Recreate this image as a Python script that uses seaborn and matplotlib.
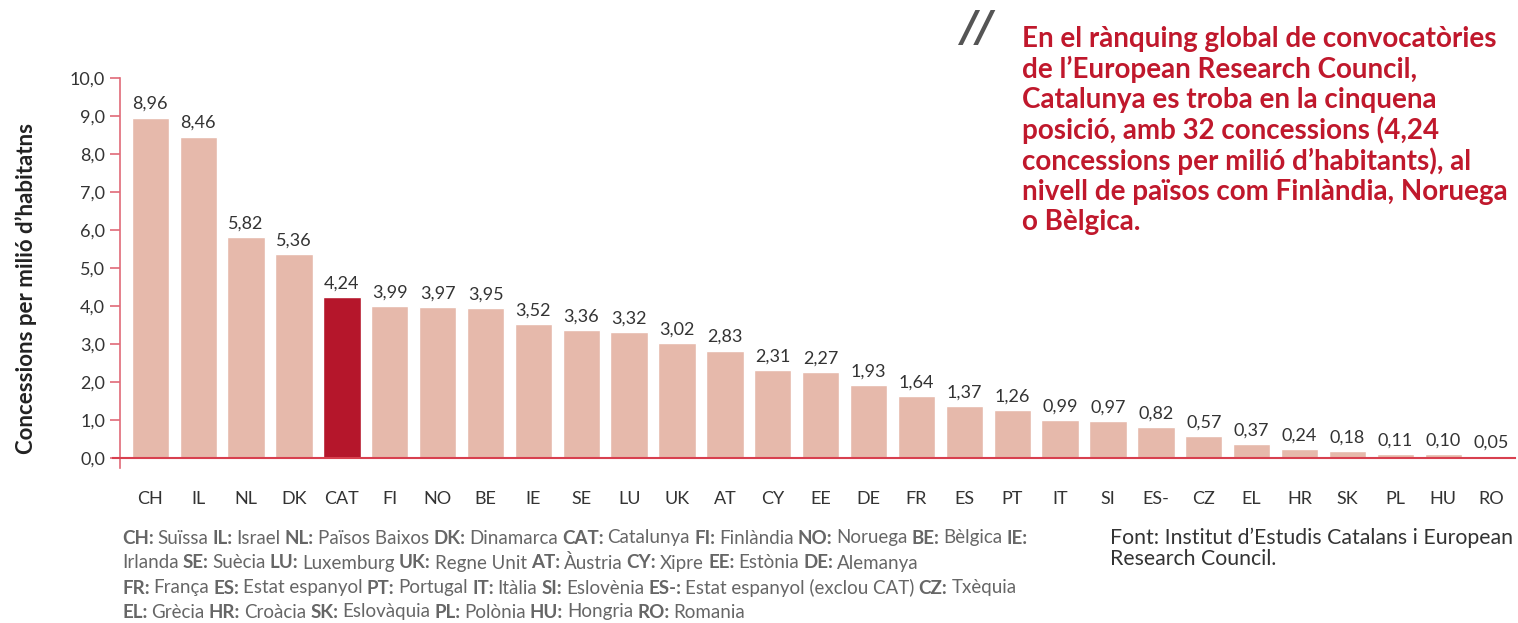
import matplotlib
matplotlib.use("Agg")
import matplotlib.pyplot as plt
import seaborn as sns

# dades
codes = ["CH", "IL", "NL", "DK", "CAT", "FI", "NO", "BE", "IE", "SE", "LU", "UK", "AT", "CY",
         "EE", "DE", "FR", "ES", "PT", "IT", "SI", "ES-", "CZ", "EL", "HR", "SK", "PL", "HU", "RO"]
values = [8.96, 8.46, 5.82, 5.36, 4.24, 3.99, 3.97, 3.95, 3.52, 3.36, 3.32, 3.02, 2.83, 2.31,
          2.27, 1.93, 1.64, 1.37, 1.26, 0.99, 0.97, 0.82, 0.57, 0.37, 0.24, 0.18, 0.11, 0.10, 0.05]
yticks = [0, 1, 2, 3, 4, 5, 6, 7, 8, 9, 10]
highlight = "CAT"

title_text = ("En el rànquing global de convocatòries\n"
              "de l’European Research Council,\n"
              "Catalunya es troba en la cinquena\n"
              "posició, amb 32 concessions (4,24\n"
              "concessions per milió d’habitants), al\n"
              "nivell de països com Finlàndia, Noruega\n"
              "o Bèlgica.")
ylabel = "Concessions per milió d’habitatns"
source = "Font: Institut d’Estudis Catalans i European\nResearch Council."

legend_lines = [
    [("CH:", "Suïssa"), ("IL:", "Israel"), ("NL:", "Països Baixos"), ("DK:", "Dinamarca"),
     ("CAT:", "Catalunya"), ("FI:", "Finlàndia"), ("NO:", "Noruega"), ("BE:", "Bèlgica"), ("IE:", "")],
    [("", "Irlanda"), ("SE:", "Suècia"), ("LU:", "Luxemburg"), ("UK:", "Regne Unit"),
     ("AT:", "Àustria"), ("CY:", "Xipre"), ("EE:", "Estònia"), ("DE:", "Alemanya")],
    [("FR:", "França"), ("ES:", "Estat espanyol"), ("PT:", "Portugal"), ("IT:", "Itàlia"),
     ("SI:", "Eslovènia"), ("ES-:", "Estat espanyol (exclou CAT)"), ("CZ:", "Txèquia")],
    [("EL:", "Grècia"), ("HR:", "Croàcia"), ("SK:", "Eslovàquia"), ("PL:", "Polònia"),
     ("HU:", "Hongria"), ("RO:", "Romania")],
]

sns.set_style("white")
plt.rcParams["font.family"] = ["Lato", "DejaVu Sans"]

light = "#e6b9ab"
dark_red = "#b5162b"
palette = {c: (dark_red if c == highlight else light) for c in codes}

W, H = 1518, 623
fig = plt.figure(figsize=(15.18, 6.23), dpi=100)
ax = fig.add_axes([113 / W, 1 - 468 / H, (1515 - 113) / W, (468 - 78) / H])

sns.barplot(x=codes, y=values, hue=codes, palette=palette, legend=False,
            width=0.78, saturation=1, ax=ax)

for cont in ax.containers:
    ax.bar_label(cont, labels=[f"{v:.2f}".replace(".", ",") for v in cont.datavalues],
                 padding=4, fontsize=13, color="#333333")

ax.set_xlim(-0.78, 28.5)
ax.set_ylim(-0.26, 10)
ax.set_yticks(yticks)
ax.set_yticklabels([f"{v:.1f}".replace(".", ",") for v in yticks])
ax.tick_params(axis="x", length=0, pad=24, labelsize=13, labelcolor="#333333")
ax.tick_params(axis="y", length=7, width=1.2, color="#e06a78", left=True, pad=4,
               labelsize=13, labelcolor="#333333")
for s in ["top", "right"]:
    ax.spines[s].set_visible(False)
ax.spines["left"].set_position(("data", -0.63))
ax.spines["bottom"].set_position(("data", 0))
ax.spines["left"].set_color("#e06a78")
ax.spines["left"].set_linewidth(1.2)
ax.spines["bottom"].set_color("#d8404f")
ax.spines["bottom"].set_linewidth(1.5)
ax.set_ylabel("")

fig.text(26 / W, 1 - 288 / H, ylabel, rotation=90, ha="center", va="center",
         fontsize=16, fontweight="bold", color="#222222")

# text destacat
fig.text(962 / W, 1 - 8 / H, "//", fontsize=30, fontweight="bold", style="italic",
         family="DejaVu Sans", color="#555555", ha="left", va="top")
fig.text(1022 / W, 1 - 26 / H, title_text, fontsize=20, fontweight="bold",
         color="#c0182c", ha="left", va="top", linespacing=1.17)

# llegenda de codis
renderer = fig.canvas.get_renderer()
line_y = [538, 563, 588, 612]
gap = 4 / W
for yy, parts in zip(line_y, legend_lines):
    x = 122 / W
    for key, name in parts:
        for txt, wt in [(key, "bold"), (name, "normal")]:
            if not txt:
                continue
            t = fig.text(x, 1 - yy / H, txt, fontsize=13.5, fontweight=wt, color="#666666",
                         ha="left", va="center")
            bb = t.get_window_extent(renderer)
            x += bb.width / fig.bbox.width + gap

fig.text(1110 / W, 1 - 528 / H, source, fontsize=15.3, color="#333333",
         ha="left", va="top", linespacing=1.05)

fig.savefig("out.png", dpi=100)
